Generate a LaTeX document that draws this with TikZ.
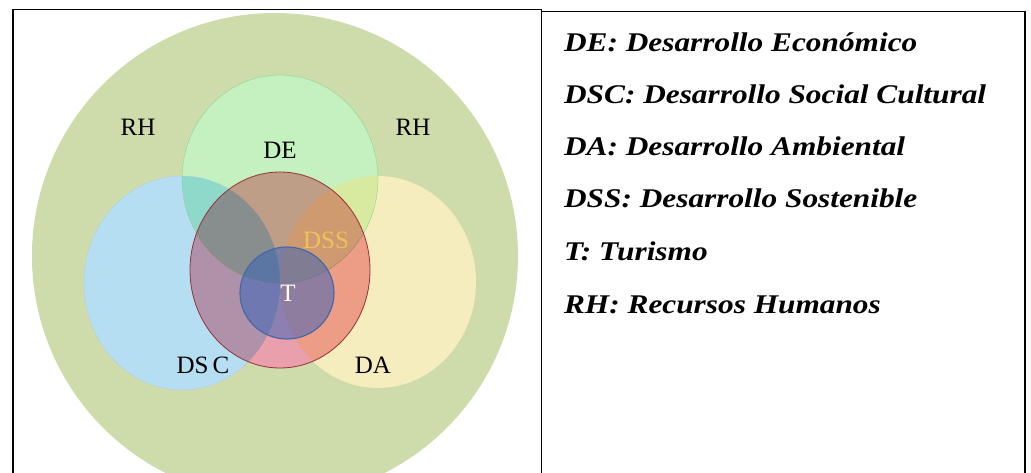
\documentclass[tikz,border=0pt]{standalone}
\usepackage{fontspec}
\setmainfont{Liberation Serif}
\usepackage{tikz}
\usetikzlibrary{calc,backgrounds}

\definecolor{rhgreen}{RGB}{205,220,170}
\definecolor{degreen}{RGB}{197,240,192}
\definecolor{dscblue}{RGB}{182,222,242}
\definecolor{dayellow}{RGB}{246,237,190}
\definecolor{deteal}{RGB}{142,217,202}
\definecolor{delime}{RGB}{216,234,160}
\definecolor{dsspink}{RGB}{246,168,180}
\definecolor{dssrose}{RGB}{234,160,172}
\definecolor{dssline}{RGB}{150,50,55}
\definecolor{tblue}{RGB}{50,95,185}
\definecolor{tline}{RGB}{70,105,165}
\definecolor{dssgold}{RGB}{240,192,92}

\begin{document}
\begin{tikzpicture}[x=1pt,y=-1pt]
\useasboundingbox (0,0) rectangle (1031,473);
\clip (0,0) rectangle (1031,473);
\tikzset{lbl/.style={font=\fontsize{25}{29}\selectfont,anchor=base},
         legend/.style={font=\fontsize{27}{32}\selectfont\bfseries\itshape,anchor=base west,xscale=1.16,transform shape}}
\coordinate (RH) at (275,256);
\coordinate (DE) at (280,179);
\coordinate (DSC) at (182,283);
\coordinate (DA) at (378,282);
\coordinate (DSS) at (280,270);
\coordinate (T) at (287,293);
\fill[rhgreen] (RH) circle [radius=243];
\fill[dscblue] (DSC) ellipse [x radius=98, y radius=107];
\fill[dayellow] (DA) ellipse [x radius=98, y radius=106];
\fill[degreen] (DE) ellipse [x radius=98, y radius=104];
\begin{scope}
\clip (DE) ellipse [x radius=98, y radius=104];
\fill[deteal] (DSC) ellipse [x radius=98, y radius=107];
\fill[delime] (DA) ellipse [x radius=98, y radius=106];
\end{scope}
\draw[green!45!gray!60,line width=0.4pt] (DE) ellipse [x radius=98, y radius=104];
\draw[cyan!40!gray!50,line width=0.4pt] (DSC) ellipse [x radius=98, y radius=107];
% DSS tinted over the circles
\begin{scope}[blend mode=multiply]
\fill[dsspink] (DSS) ellipse [x radius=90, y radius=98];
\end{scope}
\begin{scope}[even odd rule]
\clip (DSS) ellipse [x radius=90, y radius=98];
\clip (0,0) rectangle (1031,473) (DE) ellipse [x radius=98, y radius=104];
\clip (0,0) rectangle (1031,473) (DSC) ellipse [x radius=98, y radius=107];
\clip (0,0) rectangle (1031,473) (DA) ellipse [x radius=98, y radius=106];
\fill[dssrose] (DSS) ellipse [x radius=90, y radius=98];
\end{scope}
\draw[dssline,line width=0.8pt] (DSS) ellipse [x radius=90, y radius=98];
\fill[tblue,fill opacity=0.5] (T) ellipse [x radius=47, y radius=46];
\draw[tline,line width=1.2pt] (T) ellipse [x radius=47, y radius=46];
% labels
\node[lbl] (rhl) at (138,136) {RH};
\node[lbl] (rhr) at (413,136) {RH};
\node[lbl] (del) at (280,159) {DE};
\node[lbl,text=dssgold] (dssl) at (326,249) {DSS};
\node[lbl,text=white] (tl) at (288,301) {T};
\node[lbl] (dscl) at (203,373) {DS\,C};
\node[lbl] (dal) at (373,373) {DA};
% frames
\draw[line width=1.6pt] (13,480) -- (13,9.5) -- (541.5,9.5) -- (541.5,480);
\draw[line width=1.6pt] (541.5,11.5) -- (1025,11.5) -- (1025,480);
% legend
\node[legend] (lde) at (560,52) {DE: Desarrollo Económico};
\node[legend] (ldsc) at (560,104) {DSC: Desarrollo Social Cultural};
\node[legend] (lda) at (560,156) {DA: Desarrollo Ambiental};
\node[legend] (ldss) at (560,208) {DSS: Desarrollo Sostenible};
\node[legend] (lt) at (560,261) {T: Turismo};
\node[legend] (lrh) at (560,313) {RH: Recursos Humanos};
\end{tikzpicture}
\end{document}
